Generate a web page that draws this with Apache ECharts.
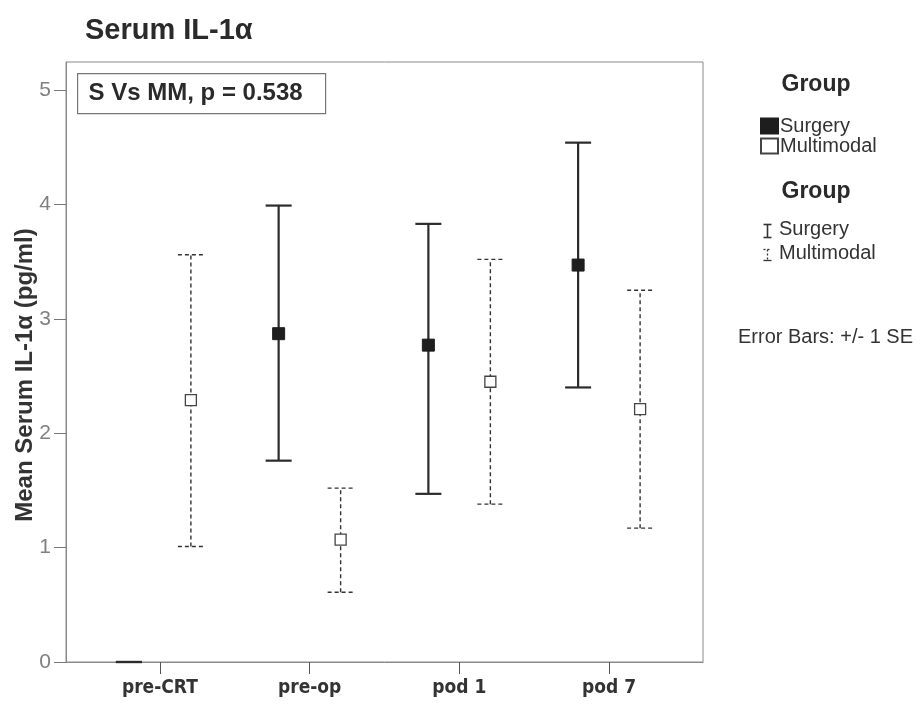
<!DOCTYPE html>
<html>
<head>
<meta charset="utf-8">
<script src="https://cdn.jsdelivr.net/npm/echarts@6/dist/echarts.min.js"></script>
<style>
  html, body { margin: 0; padding: 0; background: #fff; }
  #chart { width: 920px; height: 709px; }
</style>
</head>
<body>
<div id="chart"></div>
<script>
var categories = ['pre-CRT', 'pre-op', 'pod 1', 'pod 7'];
var yTicks = [0, 1, 2, 3, 4, 5];

// Surgery group: mean and +/- 1 SE ends (no mean drawn at pre-CRT)
var surgeryMean = [null, 2.87, 2.77, 3.47];
var surgeryLow = [0, 1.76, 1.47, 2.40];
var surgeryHigh = [0, 3.99, 3.83, 4.54];

// Multimodal group
var multiMean = [2.29, 1.07, 2.45, 2.21];
var multiLow = [1.01, 0.61, 1.38, 1.17];
var multiHigh = [3.56, 1.52, 3.52, 3.25];

var font = '"Liberation Sans", Arial, sans-serif';
var narrow = '"DejaVu Sans Condensed", "Liberation Sans", sans-serif';
var shift = 0.207;

function meanData(means, off) {
	var out = [];
	for (var i = 0; i < means.length; i++) {
		if (means[i] != null) {
			out.push([i + off, means[i]]);
		}
	}
	return out;
}

function barData(lows, highs, off) {
	var out = [];
	for (var i = 0; i < lows.length; i++) {
		out.push([i + off, lows[i], highs[i]]);
	}
	return out;
}

function errorSeries(name, data, color, width, dash) {
	return {
		name: name,
		type: 'custom',
		data: data,
		encode: { x: 0, y: [1, 2] },
		z: 2,
		renderItem: function (params, api) {
			var lo = api.coord([api.value(0), api.value(1)]);
			var hi = api.coord([api.value(0), api.value(2)]);
			var cap = 13;
			var style = { stroke: color, lineWidth: width, lineDash: dash };
			return {
				type: 'group',
				children: [
					{ type: 'line', shape: { x1: lo[0], y1: lo[1], x2: hi[0], y2: hi[1] }, style: style },
					{ type: 'line', shape: { x1: hi[0] - cap, y1: hi[1], x2: hi[0] + cap, y2: hi[1] }, style: style },
					{ type: 'line', shape: { x1: lo[0] - cap, y1: lo[1], x2: lo[0] + cap, y2: lo[1] }, style: style }
				]
			};
		}
	};
}

var chart = echarts.init(document.getElementById('chart'));
chart.setOption({
	backgroundColor: '#ffffff',
	animation: false,
	title: {
		text: 'Serum IL-1\u03b1',
		left: 80,
		top: 11,
		textStyle: { fontFamily: font, fontWeight: 'bold', fontSize: 29, color: '#2a2a2a' }
	},
	grid: {
		left: 66, right: 217, top: 62, bottom: 47,
		show: true, borderColor: '#8a8a8a', borderWidth: 1
	},
	legend: {
		orient: 'vertical',
		left: 755,
		top: 111,
		itemWidth: 17,
		itemHeight: 15,
		itemGap: 0,
		data: [
			{ name: 'Surgery', icon: 'rect' },
			{ name: 'Multimodal', icon: 'rect' }
		],
		textStyle: { fontFamily: font, fontSize: 20, color: '#333', padding: [0, 0, 0, -3] }
	},
	xAxis: {
		type: 'value',
		min: -0.627,
		max: 3.627,
		splitLine: { show: false },
		axisLine: { show: true, onZero: false, lineStyle: { color: '#8a8a8a' } },
		axisTick: { show: true, length: 12, customValues: [0, 1, 2, 3], lineStyle: { color: '#555' } },
		axisLabel: {
			customValues: [0, 1, 2, 3],
			margin: 17,
			fontFamily: narrow,
			fontWeight: 'bold',
			fontSize: 19,
			color: '#333',
			formatter: function (v) { return categories[Math.round(v)]; }
		}
	},
	yAxis: {
		type: 'value',
		min: 0,
		max: 5.245,
		splitLine: { show: false },
		axisLine: { show: true, onZero: false, lineStyle: { color: '#8a8a8a' } },
		axisTick: { show: true, length: 12, customValues: yTicks, lineStyle: { color: '#777' } },
		axisLabel: {
			customValues: yTicks,
			margin: 15,
			fontFamily: font,
			fontSize: 21,
			color: '#808080'
		}
	},
	series: [
		errorSeries('Surgery SE', barData(surgeryLow, surgeryHigh, -shift), '#2b2b2b', 2.2, null),
		errorSeries('Multimodal SE', barData(multiLow, multiHigh, shift), '#333', 1.4, [4, 3]),
		{
			name: 'Surgery',
			type: 'scatter',
			symbol: 'rect',
			symbolSize: 12,
			z: 3,
			itemStyle: { color: '#1e1e1e', borderColor: '#1e1e1e', borderWidth: 1, opacity: 1 },
			data: meanData(surgeryMean, -shift)
		},
		{
			name: 'Multimodal',
			type: 'scatter',
			symbol: 'rect',
			symbolSize: 11,
			z: 3,
			itemStyle: { color: '#ffffff', borderColor: '#444', borderWidth: 1.3, opacity: 1 },
			data: meanData(multiMean, shift)
		}
	],
	graphic: [
		{
			type: 'text',
			x: 25,
			y: 375,
			rotation: Math.PI / 2,
			style: { text: 'Mean Serum IL-1\u03b1 (pg/ml)', align: 'center', verticalAlign: 'middle',
				font: 'bold 24px ' + font, fill: '#333' }
		},
		{
			type: 'group',
			left: 77,
			top: 73,
			children: [
				{ type: 'rect', shape: { x: 0, y: 0, width: 248, height: 40 },
					style: { fill: '#fff', stroke: '#777', lineWidth: 1.2 } },
				{ type: 'text', x: 118, y: 20,
					style: { text: 'S Vs MM, p = 0.538', align: 'center', verticalAlign: 'middle',
						font: 'bold 24px ' + font, fill: '#2a2a2a' } }
			]
		},
		{ type: 'text', x: 816, y: 85,
			style: { text: 'Group', align: 'center', verticalAlign: 'middle', font: 'bold 23px ' + font, fill: '#2a2a2a' } },
		{ type: 'text', x: 816, y: 192,
			style: { text: 'Group', align: 'center', verticalAlign: 'middle', font: 'bold 23px ' + font, fill: '#2a2a2a' } },
		{
			type: 'group',
			left: 761,
			top: 222,
			children: [
				{ type: 'line', shape: { x1: 4, y1: 0, x2: 4, y2: 13 }, style: { stroke: '#333', lineWidth: 1.6 } },
				{ type: 'line', shape: { x1: 0, y1: 0, x2: 8, y2: 0 }, style: { stroke: '#333', lineWidth: 1.6 } },
				{ type: 'line', shape: { x1: 0, y1: 13, x2: 8, y2: 13 }, style: { stroke: '#333', lineWidth: 1.6 } },
				{ type: 'line', shape: { x1: 4, y1: 25, x2: 4, y2: 36 }, style: { stroke: '#333', lineWidth: 1.3, lineDash: [2, 2] } },
				{ type: 'line', shape: { x1: 0, y1: 25, x2: 8, y2: 25 }, style: { stroke: '#333', lineWidth: 1.3, lineDash: [2, 2] } },
				{ type: 'line', shape: { x1: 0, y1: 36, x2: 8, y2: 36 }, style: { stroke: '#333', lineWidth: 1.3 } }
			]
		},
		{ type: 'text', x: 779, y: 229,
			style: { text: 'Surgery', verticalAlign: 'middle', font: '20px ' + font, fill: '#333' } },
		{ type: 'text', x: 779, y: 253,
			style: { text: 'Multimodal', verticalAlign: 'middle', font: '20px ' + font, fill: '#333' } },
		{ type: 'text', x: 738, y: 337,
			style: { text: 'Error Bars: +/- 1 SE', verticalAlign: 'middle', font: '20px ' + font, fill: '#333' } }
	]
});
</script>
</body>
</html>
